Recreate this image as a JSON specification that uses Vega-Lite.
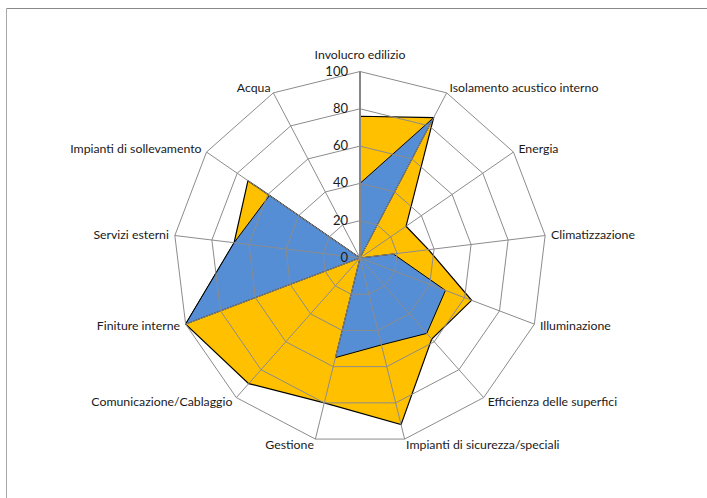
{
  "$schema": "https://vega.github.io/schema/vega-lite/v6.json",
  "width": 701,
  "height": 490,
  "autosize": "none",
  "padding": {"left": 6, "top": 8, "right": 0, "bottom": 0},
  "background": "white",
  "view": {"stroke": null},
  "config": {"font": "Lato"},
  "datasets": {
    "cats": [
      {"i": 0, "name": "Involucro edilizio"},
      {"i": 1, "name": "Isolamento acustico interno"},
      {"i": 2, "name": "Energia"},
      {"i": 3, "name": "Climatizzazione"},
      {"i": 4, "name": "Illuminazione"},
      {"i": 5, "name": "Efficienza delle superfici"},
      {"i": 6, "name": "Impianti di sicurezza/speciali"},
      {"i": 7, "name": "Gestione"},
      {"i": 8, "name": "Comunicazione/Cablaggio"},
      {"i": 9, "name": "Finiture interne"},
      {"i": 10, "name": "Servizi esterni"},
      {"i": 11, "name": "Impianti di sollevamento"},
      {"i": 12, "name": "Acqua"}
    ],
    "vals": [
      {"s": "A", "i": 0, "v": 76}, {"s": "A", "i": 1, "v": 85}, {"s": "A", "i": 2, "v": 30},
      {"s": "A", "i": 3, "v": 37}, {"s": "A", "i": 4, "v": 64}, {"s": "A", "i": 5, "v": 58},
      {"s": "A", "i": 6, "v": 92}, {"s": "A", "i": 7, "v": 80}, {"s": "A", "i": 8, "v": 90},
      {"s": "A", "i": 9, "v": 100}, {"s": "A", "i": 10, "v": 68}, {"s": "A", "i": 11, "v": 73},
      {"s": "A", "i": 12, "v": 0},
      {"s": "B", "i": 0, "v": 40}, {"s": "B", "i": 1, "v": 85}, {"s": "B", "i": 2, "v": 0},
      {"s": "B", "i": 3, "v": 18}, {"s": "B", "i": 4, "v": 49}, {"s": "B", "i": 5, "v": 54},
      {"s": "B", "i": 6, "v": 48}, {"s": "B", "i": 7, "v": 55}, {"s": "B", "i": 8, "v": 0},
      {"s": "B", "i": 9, "v": 100}, {"s": "B", "i": 10, "v": 68}, {"s": "B", "i": 11, "v": 59},
      {"s": "B", "i": 12, "v": 0}
    ],
    "rings": [
      {"r": 20, "i": 0}, {"r": 20, "i": 1}, {"r": 20, "i": 2}, {"r": 20, "i": 3}, {"r": 20, "i": 4}, {"r": 20, "i": 5}, {"r": 20, "i": 6}, {"r": 20, "i": 7}, {"r": 20, "i": 8}, {"r": 20, "i": 9}, {"r": 20, "i": 10}, {"r": 20, "i": 11}, {"r": 20, "i": 12},
      {"r": 40, "i": 0}, {"r": 40, "i": 1}, {"r": 40, "i": 2}, {"r": 40, "i": 3}, {"r": 40, "i": 4}, {"r": 40, "i": 5}, {"r": 40, "i": 6}, {"r": 40, "i": 7}, {"r": 40, "i": 8}, {"r": 40, "i": 9}, {"r": 40, "i": 10}, {"r": 40, "i": 11}, {"r": 40, "i": 12},
      {"r": 60, "i": 0}, {"r": 60, "i": 1}, {"r": 60, "i": 2}, {"r": 60, "i": 3}, {"r": 60, "i": 4}, {"r": 60, "i": 5}, {"r": 60, "i": 6}, {"r": 60, "i": 7}, {"r": 60, "i": 8}, {"r": 60, "i": 9}, {"r": 60, "i": 10}, {"r": 60, "i": 11}, {"r": 60, "i": 12},
      {"r": 80, "i": 0}, {"r": 80, "i": 1}, {"r": 80, "i": 2}, {"r": 80, "i": 3}, {"r": 80, "i": 4}, {"r": 80, "i": 5}, {"r": 80, "i": 6}, {"r": 80, "i": 7}, {"r": 80, "i": 8}, {"r": 80, "i": 9}, {"r": 80, "i": 10}, {"r": 80, "i": 11}, {"r": 80, "i": 12},
      {"r": 100, "i": 0}, {"r": 100, "i": 1}, {"r": 100, "i": 2}, {"r": 100, "i": 3}, {"r": 100, "i": 4}, {"r": 100, "i": 5}, {"r": 100, "i": 6}, {"r": 100, "i": 7}, {"r": 100, "i": 8}, {"r": 100, "i": 9}, {"r": 100, "i": 10}, {"r": 100, "i": 11}, {"r": 100, "i": 12}
    ],
    "ticks": [{"t": 0}, {"t": 20}, {"t": 40}, {"t": 60}, {"t": 80}, {"t": 100}]
  },
  "encoding": {
    "x": {"field": "px", "type": "quantitative",
      "scale": {"domain": [-189.81, 186.06], "nice": false, "zero": false},
      "axis": {"orient": "top", "title": null, "labels": false, "ticks": false, "grid": false, "domainColor": "#888888", "domainWidth": 1}},
    "y": {"field": "py", "type": "quantitative",
      "scale": {"domain": [-128.69, 134.05], "nice": false, "zero": false},
      "axis": {"orient": "left", "title": null, "labels": false, "ticks": false, "grid": false, "domainColor": "#a8a8a8", "domainWidth": 1}}
  },
  "layer": [
    {
      "data": {"name": "vals"},
      "transform": [
        {"filter": "datum.s == 'A'"},
        {"calculate": "datum.v * sin(datum.i * 2 * PI / 13)", "as": "px"},
        {"calculate": "datum.v * cos(datum.i * 2 * PI / 13)", "as": "py"}
      ],
      "mark": {"type": "line", "interpolate": "linear-closed", "fill": "#FFC000", "stroke": "#000000", "strokeWidth": 1.2},
      "encoding": {"order": {"field": "i", "type": "quantitative"}}
    },
    {
      "data": {"name": "vals"},
      "transform": [
        {"filter": "datum.s == 'B'"},
        {"calculate": "datum.v * sin(datum.i * 2 * PI / 13)", "as": "px"},
        {"calculate": "datum.v * cos(datum.i * 2 * PI / 13)", "as": "py"}
      ],
      "mark": {"type": "line", "interpolate": "linear-closed", "fill": "#558ED5", "stroke": "#000000", "strokeWidth": 1},
      "encoding": {"order": {"field": "i", "type": "quantitative"}}
    },
    {
      "data": {"name": "rings"},
      "transform": [
        {"calculate": "datum.r * sin(datum.i * 2 * PI / 13)", "as": "px"},
        {"calculate": "datum.r * cos(datum.i * 2 * PI / 13)", "as": "py"}
      ],
      "mark": {"type": "line", "interpolate": "linear-closed", "stroke": "#8c8c8c", "strokeWidth": 1},
      "encoding": {"order": {"field": "i", "type": "quantitative"}, "detail": {"field": "r", "type": "nominal"}}
    },
    {
      "data": {"name": "cats"},
      "transform": [
        {"calculate": "0", "as": "px"},
        {"calculate": "0", "as": "py"},
        {"calculate": "100 * sin(datum.i * 2 * PI / 13)", "as": "qx"},
        {"calculate": "100 * cos(datum.i * 2 * PI / 13)", "as": "qy"}
      ],
      "mark": {"type": "rule"},
      "encoding": {
        "x2": {"field": "qx"},
        "y2": {"field": "qy"},
        "color": {"condition": {"test": "datum.i == 0", "value": "#868686"}, "value": "#8c8c8c"},
        "strokeWidth": {"condition": {"test": "datum.i == 0", "value": 2}, "value": 1}
      }
    },
    {
      "data": {"name": "ticks"},
      "transform": [
        {"calculate": "0", "as": "px"},
        {"calculate": "datum.t", "as": "py"}
      ],
      "mark": {"type": "text", "align": "right", "baseline": "middle", "dx": -12, "fontSize": 13, "color": "#1a1a1a"},
      "encoding": {"text": {"field": "t", "type": "quantitative"}}
    },
    {
      "data": {"name": "cats"},
      "transform": [
        {"filter": "datum.i == 0"},
        {"calculate": "108.6 * sin(datum.i * 2 * PI / 13)", "as": "px"},
        {"calculate": "108.6 * cos(datum.i * 2 * PI / 13)", "as": "py"}
      ],
      "mark": {"type": "text", "align": "center", "baseline": "middle", "fontSize": 12.3, "color": "#1a1a1a"},
      "encoding": {"text": {"field": "name", "type": "nominal"}}
    },
    {
      "data": {"name": "cats"},
      "transform": [
        {"filter": "datum.i >= 1 && datum.i <= 6"},
        {"calculate": "103.2 * sin(datum.i * 2 * PI / 13)", "as": "px"},
        {"calculate": "103.2 * cos(datum.i * 2 * PI / 13)", "as": "py"}
      ],
      "mark": {"type": "text", "align": "left", "baseline": "middle", "fontSize": 12.3, "color": "#1a1a1a"},
      "encoding": {"text": {"field": "name", "type": "nominal"}}
    },
    {
      "data": {"name": "cats"},
      "transform": [
        {"filter": "datum.i >= 7"},
        {"calculate": "103.2 * sin(datum.i * 2 * PI / 13)", "as": "px"},
        {"calculate": "103.2 * cos(datum.i * 2 * PI / 13)", "as": "py"}
      ],
      "mark": {"type": "text", "align": "right", "baseline": "middle", "fontSize": 12.3, "color": "#1a1a1a"},
      "encoding": {"text": {"field": "name", "type": "nominal"}}
    }
  ]
}
